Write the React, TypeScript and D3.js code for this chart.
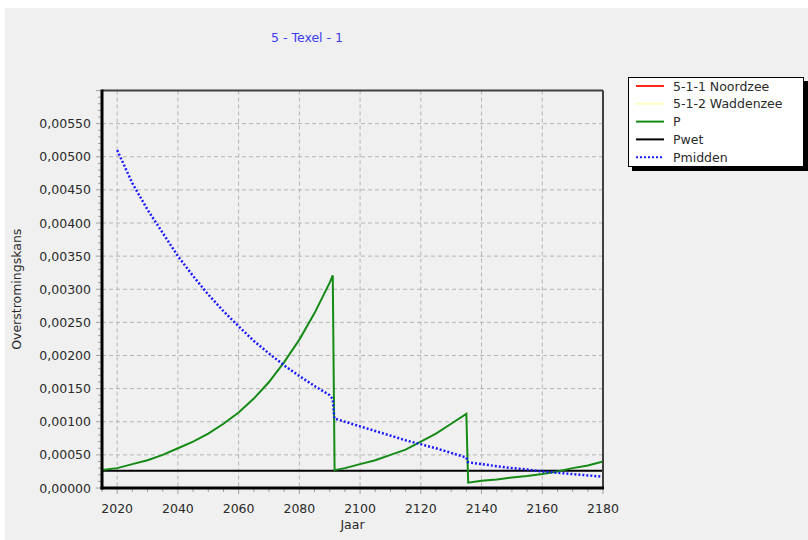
import React from "react";
import * as d3 from "d3";

const title = "5 - Texel - 1";
const xTitle = "Jaar";
const yTitle = "Overstromingskans";

const legendNames = ["5-1-1 Noordzee", "5-1-2 Waddenzee", "P", "Pwet", "Pmidden"];
const legendColors = ["#ff2a1a", "#ffffc0", "#158a15", "#000000", "#1a1aff"];

const xTicks = [2020, 2040, 2060, 2080, 2100, 2120, 2140, 2160, 2180];
const yTicks = [0, 0.0005, 0.001, 0.0015, 0.002, 0.0025, 0.003, 0.0035, 0.004, 0.0045, 0.005, 0.0055];

// P (green)
const pYears = [2015, 2020, 2025, 2030, 2035, 2040, 2045, 2050, 2055, 2060, 2065, 2070, 2075, 2080, 2085, 2090, 2091,
  2091.3, 2091.6, 2095, 2100, 2105, 2110, 2115, 2120, 2125, 2130, 2135,
  2135.3, 2135.6, 2140, 2145, 2150, 2155, 2160, 2165, 2170, 2175, 2180];
const pValues = [0.00027, 0.0003, 0.00036, 0.00042, 0.0005, 0.0006, 0.0007, 0.00082, 0.00097, 0.00114, 0.00135, 0.0016, 0.0019, 0.00224, 0.00264, 0.0031, 0.00321,
  0.00174, 0.00027, 0.0003, 0.00036, 0.00042, 0.0005, 0.00058, 0.0007, 0.00082, 0.00097, 0.00112,
  0.00057, 0.00008, 0.00011, 0.00013, 0.00016, 0.00018, 0.00021, 0.00025, 0.0003, 0.00034, 0.0004];

// Pwet (black)
const pwetYears = [2015, 2180];
const pwetValues = [0.00026, 0.00026];

// Pmidden (blue dotted)
const pmYears = [2020, 2025, 2030, 2035, 2040, 2045, 2050, 2055, 2060, 2065, 2070, 2075, 2080, 2085, 2090, 2091,
  2091.5, 2095, 2100, 2105, 2110, 2115, 2120, 2125, 2130, 2135,
  2135.5, 2140, 2145, 2150, 2155, 2160, 2165, 2170, 2175, 2180];
const pmValues = [0.0051, 0.0046, 0.0042, 0.00385, 0.0035, 0.0032, 0.00292, 0.00267, 0.00244, 0.00222, 0.00203, 0.00185, 0.00169, 0.00154, 0.0014, 0.00134,
  0.00105, 0.001, 0.00093, 0.00086, 0.00079, 0.00072, 0.00066, 0.0006, 0.00053, 0.00046,
  0.00039, 0.00036, 0.00033, 0.0003, 0.00028, 0.00025, 0.00023, 0.00021, 0.00019, 0.00017];

const FONT = "'DejaVu Sans', Verdana, sans-serif";
const FS = 12.5;

export default function App() {
  const left = 102, right = 603, top = 90.5, bottom = 488;
  const x = d3.scaleLinear().domain([2015, 2180]).range([left, right]);
  const y = d3.scaleLinear().domain([0, 0.006]).range([bottom, top]);
  const line = d3.line<[number, number]>().x(d => x(d[0])).y(d => y(d[1]));

  const pData = pYears.map((yr, i) => [yr, pValues[i]] as [number, number]);
  const pwData = pwetYears.map((yr, i) => [yr, pwetValues[i]] as [number, number]);
  const pmData = pmYears.map((yr, i) => [yr, pmValues[i]] as [number, number]);

  const xMinor = d3.range(2015, 2181, 5);
  const yMinor = d3.range(0, 61).map(i => i * 0.0001);
  const fmt = (v: number) => v.toFixed(5).replace(".", ",");

  return (
    <div style={{ position: "absolute", left: 0, top: 0 }}>
      <svg width={808} height={540} style={{ display: "block" }} fontFamily={FONT}>
        <rect x={0} y={0} width={808} height={540} fill="#ffffff" />
        <rect x={5} y={8} width={803} height={532} fill="#f0f0f0" />
        <text x={307} y={42} textAnchor="middle" fontSize={FS} fill="#3c3cf0">{title}</text>

        {/* grid */}
        {xTicks.map(t => (
          <line key={"gx" + t} x1={x(t)} x2={x(t)} y1={top} y2={bottom} stroke="#b4b4b4" strokeDasharray="4,3" />
        ))}
        {yTicks.map(t => (
          <line key={"gy" + t} x1={left} x2={right} y1={y(t)} y2={y(t)} stroke="#b4b4b4" strokeDasharray="4,3" />
        ))}

        {/* minor ticks */}
        {xMinor.map(t => (
          <line key={"xm" + t} x1={x(t)} x2={x(t)} y1={bottom} y2={bottom + (t % 20 === 0 ? 6 : 4)} stroke="#a0a0a0" />
        ))}
        {yMinor.map((t, i) => (
          <line key={"ym" + i} x1={left - (i % 5 === 0 ? 6 : 4)} x2={left} y1={y(t)} y2={y(t)} stroke="#a0a0a0" />
        ))}

        {/* series */}
        <path d={line(pwData) || ""} fill="none" stroke="#000" strokeWidth={2} />
        <path d={line(pData) || ""} fill="none" stroke="#158a15" strokeWidth={2} />
        <path d={line(pmData) || ""} fill="none" stroke="#1a1aff" strokeWidth={2.5} strokeDasharray="2,2" />

        {/* frame */}
        <line x1={left} x2={right} y1={top} y2={top} stroke="#404040" strokeWidth={2} />
        <line x1={right} x2={right} y1={top} y2={bottom} stroke="#404040" strokeWidth={2} />
        <line x1={left} x2={left} y1={top - 1} y2={bottom + 1.5} stroke="#000" strokeWidth={3} />
        <line x1={left - 1.5} x2={right + 1} y1={bottom} y2={bottom} stroke="#000" strokeWidth={3} />

        {/* tick labels */}
        {xTicks.map(t => (
          <text key={"xl" + t} x={x(t)} y={512.5} textAnchor="middle" fontSize={FS} fill="#2a2a2a">{t}</text>
        ))}
        {yTicks.map(t => (
          <text key={"yl" + t} x={91} y={y(t) + 4.5} textAnchor="end" fontSize={FS} fill="#2a2a2a">{fmt(t)}</text>
        ))}
        <text x={(left + right) / 2} y={529} textAnchor="middle" fontSize={FS} fill="#2a2a2a">{xTitle}</text>
        <text transform={`translate(21,${(top + bottom) / 2}) rotate(-90)`} textAnchor="middle" fontSize={FS} fill="#2a2a2a">{yTitle}</text>

        {/* legend */}
        <rect x={632} y={81} width={176} height={90} fill="#000" />
        <rect x={628.5} y={77.5} width={175} height={89} fill="#ffffff" stroke="#000" />
        {legendNames.map((n, i) => {
          const cy = 86 + i * 17.8;
          return (
            <g key={n}>
              <line x1={636} x2={664} y1={cy} y2={cy} stroke={legendColors[i]} strokeWidth={2}
                strokeDasharray={i === 4 ? "2,2" : undefined} />
              <text x={673} y={cy + 4.5} fontSize={FS} fill="#2a2a2a">{n}</text>
            </g>
          );
        })}
      </svg>
    </div>
  );
}
